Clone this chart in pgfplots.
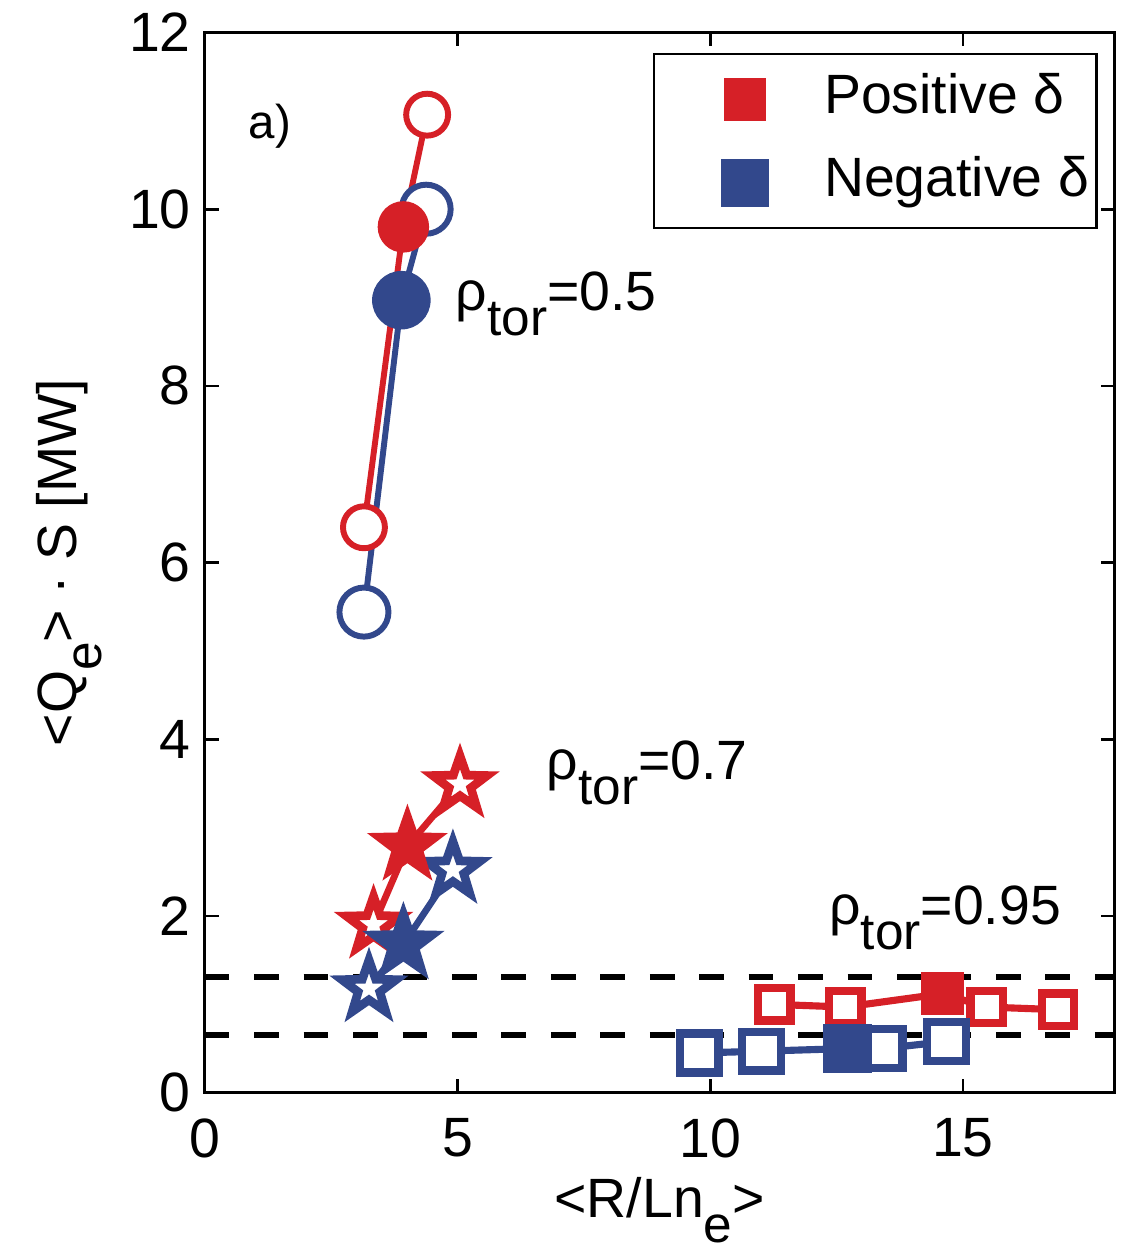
\documentclass[border=0pt]{standalone}
\usepackage{pgfplots}
\pgfplotsset{compat=1.18}
\usepackage{fontspec}
\setmainfont{Liberation Sans}

\definecolor{mred}{RGB}{214,32,39}
\definecolor{mblue}{RGB}{50,72,140}

% five-pointed star marker (MATLAB pentagram)
\pgfdeclareplotmark{pstar}{%
  \pgfpathmoveto{\pgfpointpolar{90}{\pgfplotmarksize}}%
  \pgfpathlineto{\pgfpointpolar{126}{0.4\pgfplotmarksize}}%
  \pgfpathlineto{\pgfpointpolar{162}{\pgfplotmarksize}}%
  \pgfpathlineto{\pgfpointpolar{198}{0.4\pgfplotmarksize}}%
  \pgfpathlineto{\pgfpointpolar{234}{\pgfplotmarksize}}%
  \pgfpathlineto{\pgfpointpolar{270}{0.4\pgfplotmarksize}}%
  \pgfpathlineto{\pgfpointpolar{306}{\pgfplotmarksize}}%
  \pgfpathlineto{\pgfpointpolar{342}{0.4\pgfplotmarksize}}%
  \pgfpathlineto{\pgfpointpolar{18}{\pgfplotmarksize}}%
  \pgfpathlineto{\pgfpointpolar{54}{0.4\pgfplotmarksize}}%
  \pgfpathclose
  \pgfusepathqfillstroke}

\newcommand{\sub}[1]{\raisebox{-0.45em}{\fontsize{13}{13}\selectfont #1}}

\begin{document}
\begin{tikzpicture}
\begin{axis}[
    scale only axis,
    width=230pt, height=268pt,
    xmin=0, xmax=18, ymin=0, ymax=12,
    xtick={0,5,10,15}, ytick={0,2,4,6,8,10,12},
    tick align=inside, major tick length=3.5pt,
    axis line style={line width=0.7pt},
    every tick/.style={black, line width=0.7pt},
    /pgf/number format/assume math mode=true,
    tick label style={font=\fontsize{14}{14}\selectfont},
    xticklabel style={yshift=-3pt},
    label style={font=\fontsize{14}{14}\selectfont},
    xlabel style={inner ysep=1.2pt, yshift=-0.3pt},
    xlabel={<R/Ln\sub{e}>},
    ylabel={<Q\sub{e}> · S [MW]},
    legend cell align=left,
    legend style={at={(rel axis cs:0.982,0.981)}, anchor=north east,
        draw=black, line width=0.7pt, font=\fontsize{14}{14}\selectfont,
        inner xsep=0pt, inner ysep=2pt, row sep=2pt,
        nodes={text height=10pt, text depth=3pt, inner ysep=3pt, inner xsep=2pt}},
    legend image code/.code={\draw[#1] plot coordinates {(23pt,0pt)};
        \path[draw=none, fill=none] (0pt,-5pt) rectangle (41pt,5pt);},
]
\addlegendimage{only marks, mark=square*, mark size=5pt, mred}
\addlegendentry{Positive δ}
\addlegendimage{only marks, mark=square*, mark size=5.7pt, mblue}
\addlegendentry{Negative δ}

% rho_tor = 0.5
\addplot[forget plot, mblue, line width=1.5pt, mark=*, mark indices={1,3},
    mark size=6.2pt, mark options={fill=white}]
    coordinates {(3.15,5.44)(3.89,8.97)(4.38,10.00)};
\addplot[forget plot, mred, line width=1.5pt, mark=*, mark indices={1,3},
    mark size=5.3pt, mark options={fill=white}]
    coordinates {(3.15,6.40)(3.93,9.80)(4.40,11.07)};
\addplot[forget plot, only marks, mark=*, mark size=6.3pt, mred]
    coordinates {(3.93,9.80)};
\addplot[forget plot, only marks, mark=*, mark size=7.2pt, mblue]
    coordinates {(3.89,8.97)};

% rho_tor = 0.7
\addplot[forget plot, mblue, line width=1.7pt, mark=pstar, mark indices={1,3},
    mark size=7.2pt, mark options={fill=white, line width=2.2pt}]
    coordinates {(3.25,1.18)(3.93,1.68)(4.91,2.52)};
\addplot[forget plot, mred, line width=1.7pt, mark=pstar, mark indices={1,3},
    mark size=7.2pt, mark options={fill=white, line width=2.2pt}]
    coordinates {(3.34,1.90)(4.01,2.79)(5.05,3.49)};
\addplot[forget plot, only marks, mark=pstar, mark size=7.4pt, mred,
    mark options={fill=mred, line width=2.2pt}]
    coordinates {(4.01,2.79)};
\addplot[forget plot, only marks, mark=pstar, mark size=7.6pt, mblue,
    mark options={fill=mblue, line width=2.2pt}]
    coordinates {(3.93,1.68)};

% rho_tor = 0.95
\addplot[forget plot, mred, line width=1.8pt, mark=square*, mark indices={1,2,4,5},
    mark size=4.1pt, mark options={fill=white, line width=2.1pt}]
    coordinates {(11.27,1.00)(12.67,0.97)(14.59,1.12)(15.47,0.97)(16.88,0.94)};
\addplot[forget plot, only marks, mark=square*, mark size=5.2pt, mred]
    coordinates {(14.59,1.12)};
\addplot[forget plot, mblue, line width=1.8pt, mark=square*, mark indices={1,2,4,5},
    mark size=4.9pt, mark options={fill=white, line width=2.1pt}]
    coordinates {(9.78,0.45)(11.01,0.47)(12.71,0.50)(13.42,0.50)(14.67,0.58)};
\addplot[forget plot, only marks, mark=square*, mark size=6pt, mblue]
    coordinates {(12.71,0.50)};

% threshold lines
\addplot[forget plot, black, line width=1.6pt, dash pattern=on 6.25pt off 6.25pt]
    coordinates {(0,1.31)(18,1.31)};
\addplot[forget plot, black, line width=1.6pt, dash pattern=on 6.25pt off 6.25pt]
    coordinates {(0,0.65)(18,0.65)};

\node[font=\fontsize{12}{12}\selectfont] at (axis cs:1.29,10.94) {a)};
\node[anchor=base west, inner sep=0pt, font=\fontsize{14}{14}\selectfont]
    at (axis cs:4.95,8.85) {ρ\sub{tor}=0.5};
\node[anchor=base west, inner sep=0pt, font=\fontsize{14}{14}\selectfont]
    at (axis cs:6.75,3.55) {ρ\sub{tor}=0.7};
\node[anchor=base west, inner sep=0pt, font=\fontsize{14}{14}\selectfont]
    at (axis cs:12.34,1.90) {ρ\sub{tor}=0.95};
\end{axis}
\path (current axis.south west) ++(-51.75pt,0pt);
\path (current axis.south east) ++(2.5pt,0pt);
\end{tikzpicture}
\end{document}
